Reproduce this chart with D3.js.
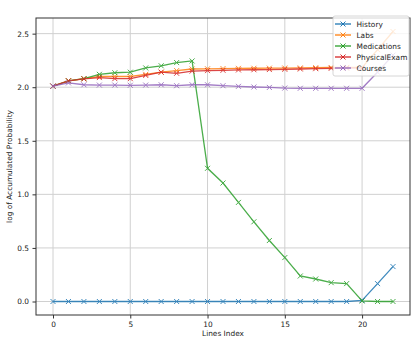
<!DOCTYPE html>
<html>
<head>
<meta charset="utf-8">
<script src="https://cdn.jsdelivr.net/npm/d3@7/dist/d3.min.js"></script>
<style>
html,body{margin:0;padding:0;background:#fff;}
svg{display:block;font-family:"DejaVu Sans",sans-serif;}
</style>
</head>
<body>
<svg id="chart" width="417" height="344"></svg>
<script>
const seriesNames = ["History","Labs","Medications","PhysicalExam","Courses"];
const seriesColors = ["#1f77b4","#ff7f0e","#2ca02c","#d62728","#9467bd"];
const history = [0,0,0,0,0,0,0,0,0,0,0,0,0,0,0,0,0,0,0,0,0.01,0.167,0.326];
const labs = [2.01,2.06,2.08,2.10,2.10,2.10,2.12,2.14,2.155,2.17,2.172,2.174,2.176,2.177,2.178,2.179,2.18,2.182,2.184,2.185,2.185,2.35,2.52];
const medications = [2.01,2.06,2.08,2.12,2.135,2.14,2.18,2.20,2.23,2.245,1.243,1.106,0.925,0.744,0.569,0.41,0.238,0.21,0.176,0.167,0.005,0,0];
const physicalExam = [2.01,2.06,2.077,2.09,2.08,2.08,2.11,2.14,2.13,2.15,2.155,2.158,2.161,2.163,2.165,2.167,2.17,2.173,2.176,2.178,2.18];
const courses = [2.01,2.04,2.023,2.02,2.02,2.018,2.02,2.023,2.014,2.023,2.023,2.014,2.008,2.002,1.998,1.992,1.99,1.99,1.99,1.99,1.99,2.14,2.30];
const xTicks = [0,5,10,15,20];
const yTicks = [0.0,0.5,1.0,1.5,2.0,2.5];
const xLabel = "Lines Index";
const yLabel = "log of Accumulated Probability";

const allSeries = [history,labs,medications,physicalExam,courses];
const FS = "7.4px";

const svg = d3.select("#chart");
const L=36, R=410, T=18, B=315;
const x = d3.scaleLinear().domain([-1.1,23.1]).range([L,R]);
const y = d3.scaleLinear().domain([-0.126,2.646]).range([B,T]);

// grid
const g = svg.append("g");
g.selectAll(".gx").data(xTicks).enter().append("line")
  .attr("x1",d=>x(d)).attr("x2",d=>x(d)).attr("y1",T).attr("y2",B)
  .attr("stroke","#d0d0d0").attr("stroke-width",1);
g.selectAll(".gy").data(yTicks).enter().append("line")
  .attr("y1",d=>y(d)).attr("y2",d=>y(d)).attr("x1",L).attr("x2",R)
  .attr("stroke","#d0d0d0").attr("stroke-width",1);

// axes
const xAxis = d3.axisBottom(x).tickValues(xTicks).tickFormat(d3.format("d")).tickSize(3.5).tickPadding(3.5);
const yAxis = d3.axisLeft(y).tickValues(yTicks).tickFormat(d3.format(".1f")).tickSize(3.5).tickPadding(3.5);
const ax = svg.append("g").attr("transform",`translate(0,${B})`).call(xAxis);
const ay = svg.append("g").attr("transform",`translate(${L},0)`).call(yAxis);
[ax,ay].forEach(a=>{
  a.select(".domain").remove();
  a.selectAll("text").attr("font-size",FS).attr("fill","#222").attr("font-family","DejaVu Sans");
  a.selectAll("line").attr("stroke","#333");
});

// lines
const line = d3.line().x((d,i)=>x(i)).y(d=>y(d));
function drawX(sel, cx, cy, s, color){
  sel.append("path")
    .attr("d",`M${cx-s},${cy-s}L${cx+s},${cy+s}M${cx-s},${cy+s}L${cx+s},${cy-s}`)
    .attr("stroke",color).attr("stroke-width",1).attr("fill","none");
}
allSeries.forEach((data,k)=>{
  const sg = svg.append("g").attr("opacity",0.85);
  sg.append("path").datum(data).attr("d",line)
    .attr("fill","none").attr("stroke",seriesColors[k]).attr("stroke-width",1.3);
  data.forEach((d,i)=>drawX(sg,x(i),y(d),2.5,seriesColors[k]));
});

// spines
svg.append("rect").attr("x",L).attr("y",T).attr("width",R-L).attr("height",B-T)
  .attr("fill","none").attr("stroke","#333").attr("stroke-width",1);

// labels
svg.append("text").attr("x",(L+R)/2).attr("y",336).attr("text-anchor","middle")
  .attr("font-size",FS).attr("fill","#222").text(xLabel);
svg.append("text").attr("transform",`translate(12,${(T+B)/2}) rotate(-90)`)
  .attr("text-anchor","middle").attr("font-size",FS).attr("fill","#222").text(yLabel);

// legend
const lg = svg.append("g");
lg.append("rect").attr("x",333).attr("y",16).attr("width",76).attr("height",60).attr("rx",2)
  .attr("fill","#fff").attr("fill-opacity",0.8).attr("stroke","#ccc").attr("stroke-width",0.8);
seriesNames.forEach((n,k)=>{
  const cy = 24 + k*11;
  const it = lg.append("g");
  it.append("line").attr("x1",335).attr("x2",351).attr("y1",cy).attr("y2",cy)
    .attr("stroke",seriesColors[k]).attr("stroke-width",1.3);
  drawX(it,343,cy,2.5,seriesColors[k]);
  it.append("text").attr("x",356.5).attr("y",cy+2.7).attr("font-size",FS).attr("fill","#222").text(n);
});
</script>
</body>
</html>
